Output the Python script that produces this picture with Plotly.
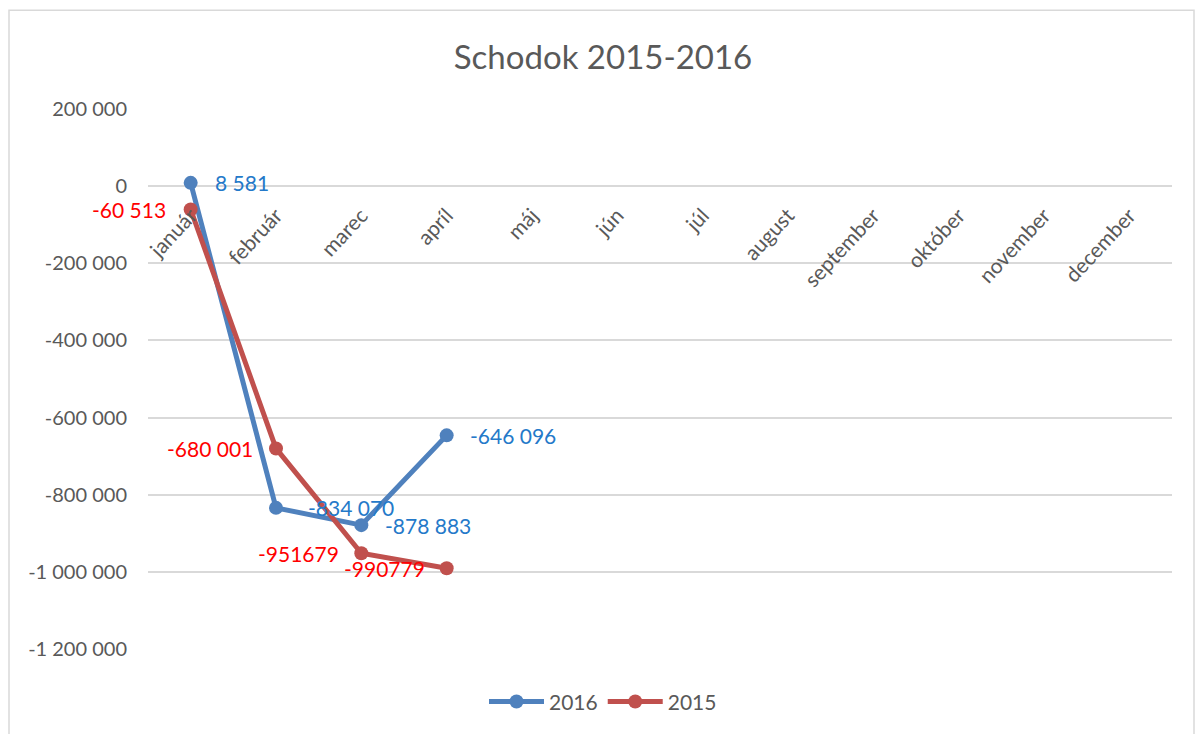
import plotly.graph_objects as go

months = ["január", "február", "marec", "apríl", "máj", "jún", "júl",
          "august", "september", "október", "november", "december"]
vals_2016 = [8581, -834070, -878883, -646096]
vals_2015 = [-60513, -680001, -951679, -990779]
labels_2016 = ["8 581", "-834 070", "-878 883", "-646 096"]
labels_2015 = ["-60 513", "-680 001", "-951679", "-990779"]
ytick_vals = [200000, 0, -200000, -400000, -600000, -800000, -1000000, -1200000]
ytick_text = ["200 000", "0", "-200 000", "-400 000", "-600 000", "-800 000",
              "-1 000 000", "-1 200 000"]

FONT = "Lato, Carlito, 'Open Sans', sans-serif"
GRAY = "#595959"
BLUE = "#4F81BD"
RED = "#C0504D"
BLUE_TXT = "#2479C9"
RED_TXT = "#FF0000"

ymin, ymax = -1200000, 200000

# page body has an 8px margin; compensate so the plot area sits at x 148..1172, y 109..651
OFF = 8
W, H = 1203 - 2 * OFF, 734 - OFF
ML, MT = 148 - OFF, 109 - OFF
MR = 1203 - OFF - 1172
MB = OFF + H - 651
PW = W - ML - MR
PH = H - MT - MB


def px_x(x):  # page pixel -> paper fraction (x)
    return (x - OFF - ML) / PW


def px_y(y):  # page pixel -> paper fraction (y)
    return (OFF + H - MB - y) / PH


fig = go.Figure()
fig.add_trace(go.Scatter(x=months[:len(vals_2016)], y=vals_2016, name="2016",
                         mode="lines+markers",
                         line=dict(color=BLUE, width=5),
                         marker=dict(size=14, color=BLUE)))
fig.add_trace(go.Scatter(x=months[:len(vals_2015)], y=vals_2015, name="2015",
                         mode="lines+markers",
                         line=dict(color=RED, width=5),
                         marker=dict(size=14, color=RED)))

# data labels
side_2016 = ["right", "right", "right", "right"]
shift_2016 = [22, 30, 22, 21]
side_2015 = ["left", "left", "left", "left"]
shift_2015 = [23, 21, 20, 20]
ann = []
for m, v, t, s, sh in zip(months, vals_2016, labels_2016, side_2016, shift_2016):
    ann.append(dict(x=m, y=v, text=t, showarrow=False,
                    xanchor="left" if s == "right" else "right",
                    xshift=sh if s == "right" else -sh, yanchor="middle",
                    font=dict(family=FONT, size=21, color=BLUE_TXT)))
for m, v, t, s, sh in zip(months, vals_2015, labels_2015, side_2015, shift_2015):
    ann.append(dict(x=m, y=v, text=t, showarrow=False,
                    xanchor="left" if s == "right" else "right",
                    xshift=sh if s == "right" else -sh, yanchor="middle",
                    font=dict(family=FONT, size=21, color=RED_TXT)))

fig.update_layout(
    width=W, height=H,
    paper_bgcolor="white", plot_bgcolor="white",
    margin=dict(l=ML, r=MR, t=MT, b=MB),
    title=dict(text="Schodok 2015-2016", x=(603 - OFF) / W,
               xanchor="center",
               y=1 - (57 - OFF) / H, yanchor="middle",
               font=dict(family=FONT, size=33, color=GRAY)),
    font=dict(family=FONT, color=GRAY),
    showlegend=True,
    legend=dict(orientation="h", x=px_x(603), xanchor="center",
                y=px_y(704), yanchor="middle",
                font=dict(family=FONT, size=21, color=GRAY),
                itemwidth=55, bgcolor="rgba(0,0,0,0)"),
    annotations=ann,
    hovermode=False,
)
fig.update_xaxes(type="category", categoryorder="array", categoryarray=months,
                 range=[-0.5, len(months) - 0.5],
                 anchor="free", position=(0 - ymin) / (ymax - ymin),
                 showgrid=False, zeroline=False, showline=False, ticks="",
                 tickangle=-47, ticklabelstandoff=12,
                 tickfont=dict(family=FONT, size=21, color=GRAY))
fig.update_yaxes(range=[ymin, ymax], tickvals=ytick_vals, ticktext=ytick_text,
                 showgrid=True, gridcolor="#D9D9D9", gridwidth=2,
                 zeroline=False, showline=False, ticks="",
                 ticklabelstandoff=20,
                 tickfont=dict(family=FONT, size=20, color=GRAY))

# chart-area border
fig.add_shape(type="rect", xref="paper", yref="paper",
              x0=px_x(OFF + 1), x1=px_x(OFF + W - 1),
              y0=px_y(760), y1=px_y(10),
              line=dict(color="#D9D9D9", width=1.5), layer="below")

fig.write_html("out.html")
